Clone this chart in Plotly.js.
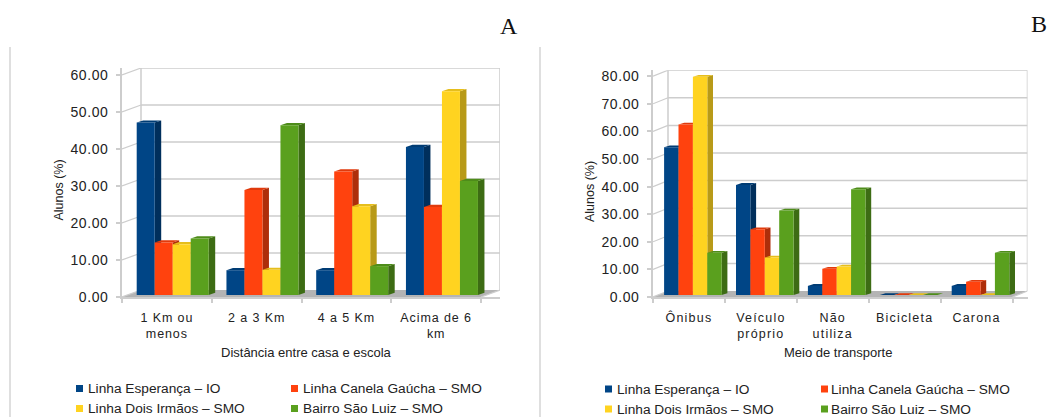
<!DOCTYPE html>
<html lang="pt">
<head>
<meta charset="utf-8">
<title>Distância e meio de transporte dos alunos</title>
<script src="https://cdn.plot.ly/plotly-3.0.1.min.js"></script>
<style>
  html, body { margin: 0; padding: 0; background: #fff; }
  #chart { width: 1047px; height: 417px; }
  #chart .xtick text { letter-spacing: .9px; }
  #chart .x2tick text { letter-spacing: 1.2px; }
  #chart .ytick text, #chart .y2tick text { letter-spacing: .6px; }
</style>
</head>
<body>
<div id="chart"></div>
<script>
// Series names and colours
const seriesNames = ['Linha Esperança – IO', 'Linha Canela Gaúcha – SMO', 'Linha Dois Irmãos – SMO', 'Bairro São Luiz – SMO'];
const frontColors = ['#004586', '#ff420e', '#ffd320', '#5aa01e'];
const sideColors  = ['#002f5c', '#ae2e0a', '#b89a18', '#3d6c14'];
const topColors   = ['#003c74', '#e03a0c', '#e6be1c', '#4e8c1a'];

// A: distance between home and school
const distanceLabels = ['1 Km ou<br>menos', '2 a 3 Km', '4 a 5 Km', 'Acima de 6<br>km'];
const distanceEsperanca = [46.6, 6.7, 6.7, 40.0];
const distanceCanela    = [14.2, 28.4, 33.4, 23.8];
const distanceIrmaos    = [13.7, 6.8, 24.0, 55.1];
const distanceSaoLuiz   = [15.3, 45.9, 7.8, 30.8];
const distanceTicks     = [0, 10, 20, 30, 40, 50, 60];

// B: means of transport
const transportLabels = ['Ônibus', 'Veículo<br>próprio', 'Não<br>utiliza', 'Bicicleta', 'Carona'];
const transportEsperanca = [53.5, 39.9, 3.3, 0, 3.3];
const transportCanela    = [61.8, 23.8, 9.5, 0, 4.8];
const transportIrmaos    = [79.1, 13.6, 10.3, 0, 0];
const transportSaoLuiz   = [15.3, 30.6, 38.3, 0, 15.3];
const transportTicks     = [0, 10, 20, 30, 40, 50, 60, 70, 80];

const W = 1047, H = 417;
const FONT = '"Liberation Sans", Arial, sans-serif';
const INK = '#222222';
const GRID = '#cdcdcd';

const panels = [
  { suffix: '', labels: distanceLabels, ticks: distanceTicks,
    values: [distanceEsperanca, distanceCanela, distanceIrmaos, distanceSaoLuiz],
    left: 122, right: 481, bottom: 297, unitPx: 3.7, wallDx: 19, wallDy: 7,
    barStart: 14.7, barPx: 18, depthDx: 6.5, depthDy: 2.2, lift: 2,
    xTitle: 'Distância entre casa e escola', xTitleAt: 306.5, yTitleX: 58, yTitleY: 190.5,
    legendMark: [76, 291], legendText: [87, 302], legendRows: [388.5, 408.5] },
  { suffix: '2', labels: transportLabels, ticks: transportTicks,
    values: [transportEsperanca, transportCanela, transportIrmaos, transportSaoLuiz],
    left: 653, right: 1012.5, bottom: 297, unitPx: 2.76, wallDx: 15, wallDy: 6,
    barStart: 11.1, barPx: 14.4, depthDx: 5.7, depthDy: 1.8, lift: 2,
    xTitle: 'Meio de transporte', xTitleAt: 838, yTitleX: 590, yTitleY: 192,
    legendMark: [605, 821], legendText: [616, 830], legendRows: [389, 409] }
];

const traces = [];
const shapes = [];
const annotations = [];
const layout = {
  width: W, height: H, margin: { l: 0, r: 0, t: 0, b: 0 },
  paper_bgcolor: '#ffffff', plot_bgcolor: 'rgba(0,0,0,0)',
  barmode: 'overlay', showlegend: false, font: { family: FONT, color: INK }
};

const polygon = (xref, yref, pts, fill) => ({
  type: 'path', xref, yref, layer: 'below',
  path: 'M' + pts.map(p => p[0] + ',' + p[1]).join('L') + 'Z',
  fillcolor: fill, line: { width: 0 }
});

// Text placed by its centre (or left edge) in page pixels
const pageText = (text, x, y, font, extra) => Object.assign({
  xref: 'paper', yref: 'paper', x: x / W, y: 1 - y / H, showarrow: false,
  xanchor: 'center', yanchor: 'middle', text, font
}, extra || {});

panels.forEach(p => {
  const xName = 'x' + p.suffix, yName = 'y' + p.suffix;
  const catPx = (p.right - p.left) / p.labels.length;
  const nCat = p.labels.length;
  const xUnits = px => px / catPx;
  const yUnits = px => px / p.unitPx;
  const topValue = p.ticks[p.ticks.length - 1];
  const xMin = -0.5, xMax = nCat - 0.5;
  const wallX = xUnits(p.wallDx), wallY = yUnits(p.wallDy);
  const yMax = topValue + wallY;
  const topPx = p.bottom - yMax * p.unitPx;

  layout['xaxis' + p.suffix] = {
    type: 'category', categoryorder: 'array', categoryarray: p.labels,
    domain: [p.left / W, (p.right + p.wallDx) / W],
    range: [xMin, xMax + wallX], anchor: yName, fixedrange: true,
    showgrid: false, zeroline: false, showline: true, linecolor: GRID, linewidth: 1.5,
    ticks: 'outside', tickson: 'boundaries', ticklen: 4, tickcolor: GRID, tickwidth: 1.5,
    ticklabelstandoff: 8, tickfont: { family: FONT, size: 12.5, color: INK }
  };
  layout['yaxis' + p.suffix] = {
    domain: [1 - p.bottom / H, 1 - topPx / H],
    range: [0, yMax], anchor: xName, fixedrange: true,
    tickmode: 'array', tickvals: p.ticks, ticktext: p.ticks.map(v => v.toFixed(2)),
    showgrid: false, zeroline: false, showline: true, linecolor: GRID, linewidth: 1.5,
    ticks: 'outside', ticklen: 4, tickcolor: GRID, tickwidth: 1.5,
    ticklabelstandoff: 5, tickfont: { family: FONT, size: 14, color: INK }
  };

  // Floor of the box
  shapes.push(polygon(xName, yName, [[xMin, 0], [xMin + wallX, wallY], [xMax + wallX, wallY], [xMax, 0]], '#b4b4b4'));

  // Back wall grid, with slanted returns to the front axis
  p.ticks.forEach(v => {
    if (v > 0) {
      shapes.push({ type: 'line', xref: xName, yref: yName, layer: 'below',
        x0: xMin + wallX, x1: xMax + wallX, y0: v + wallY, y1: v + wallY, line: { color: GRID, width: 1.5 } });
    }
    shapes.push({ type: 'line', xref: xName, yref: yName, layer: 'below',
      x0: xMin, x1: xMin + wallX, y0: v, y1: v + wallY, line: { color: GRID, width: 1.2 } });
  });
  [xMin + wallX, xMax + wallX].forEach(x => shapes.push({ type: 'line', xref: xName, yref: yName, layer: 'below',
    x0: x, x1: x, y0: wallY, y1: yMax, line: { color: GRID, width: 1.5 } }));
  shapes.push({ type: 'line', xref: xName, yref: yName, layer: 'below',
    x0: xMax, x1: xMax + wallX, y0: 0, y1: wallY, line: { color: GRID, width: 1.2 } });

  // Bars: flat fronts from the library, side and top faces derived from the same values
  const w = xUnits(p.barPx), lift = yUnits(p.lift);
  const ddx = xUnits(p.depthDx), ddy = yUnits(p.depthDy);
  const firstOffset = xUnits(p.barStart) - 0.5;
  p.values.forEach((vals, s) => {
    const offset = firstOffset + s * w;
    traces.push({
      type: 'bar', name: seriesNames[s], xaxis: xName, yaxis: yName,
      x: p.labels, y: vals, base: lift, width: w, offset,
      marker: { color: frontColors[s], line: { width: 0 } }, hoverinfo: 'x+y+name'
    });
    vals.forEach((v, c) => {
      const x0 = c + offset, x1 = x0 + w, y0 = lift, y1 = lift + v;
      if (v > 0) {
        shapes.push(polygon(xName, yName, [[x1, y0], [x1 + ddx, y0 + ddy], [x1 + ddx, y1 + ddy], [x1, y1]], sideColors[s]));
      }
      shapes.push(polygon(xName, yName, [[x0, y1], [x0 + ddx, y1 + ddy], [x1 + ddx, y1 + ddy], [x1, y1]], topColors[s]));
    });
  });

  // Axis titles
  annotations.push(pageText(p.xTitle, p.xTitleAt, 352.7, { family: FONT, size: 13, color: INK }));
  annotations.push(pageText('Alunos (%)', p.yTitleX, p.yTitleY, { family: FONT, size: 12.5, color: INK }, { textangle: -90 }));

  // Two-column key under the plot
  seriesNames.forEach((name, s) => {
    const col = s % 2, row = Math.floor(s / 2);
    const yPx = p.legendRows[row];
    shapes.push({ type: 'rect', xref: 'paper', yref: 'paper', layer: 'above',
      x0: p.legendMark[col] / W, x1: (p.legendMark[col] + 7) / W,
      y0: 1 - (yPx + 3.5) / H, y1: 1 - (yPx - 3.5) / H,
      fillcolor: frontColors[s], line: { width: 0 } });
    annotations.push(pageText(name, p.legendText[col], yPx, { family: FONT, size: 13.7, color: INK }, { xanchor: 'left', xshift: -1 }));
  });
});

// Panel dividers
[10, 540].forEach(x => shapes.push({ type: 'line', xref: 'paper', yref: 'paper', layer: 'below',
  x0: x / W, x1: x / W, y0: 0, y1: 1 - 47 / H, line: { color: '#d4d4d4', width: 1.5 } }));

// Panel letters
[['A', 508.5, 26], ['B', 1038.5, 24]].forEach(([text, x, y]) => annotations.push(
  pageText(text, x, y, { family: '"Liberation Serif", "Times New Roman", serif', size: 24, color: '#111111' })));

layout.shapes = shapes;
layout.annotations = annotations;
Plotly.newPlot('chart', traces, layout, { displayModeBar: false, responsive: false });
</script>
</body>
</html>
